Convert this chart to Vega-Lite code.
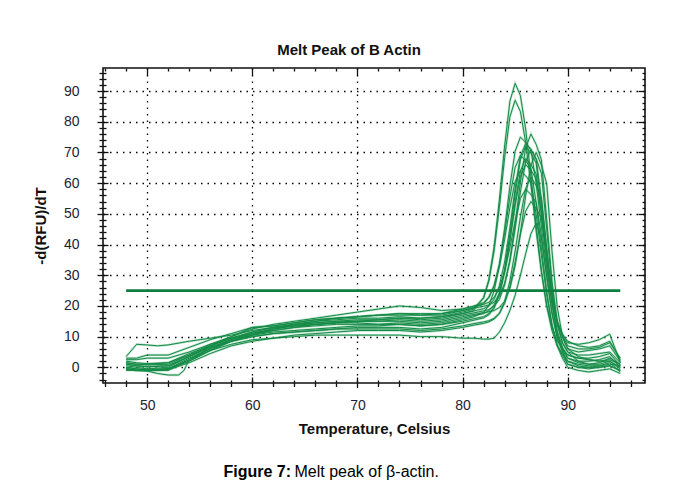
{
  "$schema": "https://vega.github.io/schema/vega-lite/v6.json",
  "width": 542,
  "height": 315,
  "autosize": {"type": "none"},
  "padding": {"left": 103, "top": 68, "right": 33, "bottom": 113},
  "background": "white",
  "config": {
    "font": "Liberation Sans",
    "view": {"stroke": "#111111", "strokeWidth": 1.6}
  },
  "title": {
    "text": "Melt Peak of B Actin",
    "font": "Liberation Sans",
    "fontSize": 15,
    "fontWeight": "bold",
    "color": "#111111",
    "frame": "group",
    "anchor": "middle",
    "dx": -25,
    "offset": -4,
    "baseline": "alphabetic"
  },
  "datasets": {
    "curves": [
      {"c":1,"t":48,"v":1},{"c":1,"t":49,"v":0.5},{"c":1,"t":50,"v":0.2},{"c":1,"t":52,"v":0.5},{"c":1,"t":54,"v":3.5},{"c":1,"t":56,"v":6.5},{"c":1,"t":58,"v":9},{"c":1,"t":60,"v":11},{"c":1,"t":62,"v":12.5},{"c":1,"t":64,"v":13.5},{"c":1,"t":66,"v":14.5},{"c":1,"t":68,"v":15},{"c":1,"t":70,"v":15.5},{"c":1,"t":72,"v":15.5},{"c":1,"t":74,"v":16},{"c":1,"t":76,"v":15.5},{"c":1,"t":78,"v":16},{"c":1,"t":80,"v":17.5},{"c":1,"t":81,"v":18.4},{"c":1,"t":82,"v":22.6},{"c":1,"t":82.5,"v":28.5},{"c":1,"t":83,"v":39.2},{"c":1,"t":83.5,"v":54.6},{"c":1,"t":84,"v":72.1},{"c":1,"t":84.5,"v":86.7},{"c":1,"t":85,"v":92.5},{"c":1,"t":85.5,"v":88.5},{"c":1,"t":86,"v":77.6},{"c":1,"t":86.5,"v":62.4},{"c":1,"t":87,"v":46.1},{"c":1,"t":87.5,"v":31.4},{"c":1,"t":88,"v":19.9},{"c":1,"t":88.5,"v":12},{"c":1,"t":89,"v":7.1},{"c":1,"t":89.5,"v":4.4},{"c":1,"t":90,"v":2},{"c":1,"t":91,"v":1},{"c":1,"t":92,"v":0.5},{"c":1,"t":93,"v":0.5},{"c":1,"t":94,"v":1},{"c":1,"t":95,"v":0.5},
      {"c":2,"t":48,"v":2},{"c":2,"t":49,"v":1.5},{"c":2,"t":50,"v":1.2},{"c":2,"t":52,"v":1.5},{"c":2,"t":54,"v":4.5},{"c":2,"t":56,"v":7},{"c":2,"t":58,"v":9.5},{"c":2,"t":60,"v":11.5},{"c":2,"t":62,"v":13},{"c":2,"t":64,"v":14},{"c":2,"t":66,"v":15},{"c":2,"t":68,"v":15.5},{"c":2,"t":70,"v":16},{"c":2,"t":72,"v":16},{"c":2,"t":74,"v":16.5},{"c":2,"t":76,"v":16},{"c":2,"t":78,"v":16.5},{"c":2,"t":80,"v":18},{"c":2,"t":81,"v":18.9},{"c":2,"t":82,"v":22.7},{"c":2,"t":82.5,"v":28.2},{"c":2,"t":83,"v":38},{"c":2,"t":83.5,"v":52.1},{"c":2,"t":84,"v":68.3},{"c":2,"t":84.5,"v":81.6},{"c":2,"t":85,"v":87},{"c":2,"t":85.5,"v":83.3},{"c":2,"t":86,"v":73.3},{"c":2,"t":86.5,"v":59.4},{"c":2,"t":87,"v":44.4},{"c":2,"t":87.5,"v":31},{"c":2,"t":88,"v":20.4},{"c":2,"t":88.5,"v":13.1},{"c":2,"t":89,"v":8.6},{"c":2,"t":89.5,"v":6.2},{"c":2,"t":90,"v":4},{"c":2,"t":91,"v":3},{"c":2,"t":92,"v":2.5},{"c":2,"t":93,"v":2},{"c":2,"t":94,"v":2.5},{"c":2,"t":95,"v":1},
      {"c":3,"t":48,"v":3.5},{"c":3,"t":49,"v":7.5},{"c":3,"t":50,"v":7.3},{"c":3,"t":51,"v":7},{"c":3,"t":52,"v":7.3},{"c":3,"t":54,"v":8.5},{"c":3,"t":56,"v":9.5},{"c":3,"t":58,"v":10.5},{"c":3,"t":60,"v":12},{"c":3,"t":62,"v":13},{"c":3,"t":64,"v":13.5},{"c":3,"t":66,"v":14},{"c":3,"t":68,"v":14.5},{"c":3,"t":70,"v":14.5},{"c":3,"t":72,"v":14},{"c":3,"t":74,"v":14},{"c":3,"t":76,"v":13.5},{"c":3,"t":78,"v":14},{"c":3,"t":80,"v":15.5},{"c":3,"t":81,"v":16.4},{"c":3,"t":82,"v":17.9},{"c":3,"t":82.5,"v":20.2},{"c":3,"t":83,"v":24.9},{"c":3,"t":83.5,"v":33.2},{"c":3,"t":84,"v":45.3},{"c":3,"t":84.5,"v":59},{"c":3,"t":85,"v":70.4},{"c":3,"t":85.5,"v":75},{"c":3,"t":86,"v":73.3},{"c":3,"t":86.5,"v":70.8},{"c":3,"t":87,"v":59.9},{"c":3,"t":87.5,"v":45.8},{"c":3,"t":88,"v":32.1},{"c":3,"t":88.5,"v":21.5},{"c":3,"t":89,"v":14.8},{"c":3,"t":89.5,"v":10.9},{"c":3,"t":90,"v":8},{"c":3,"t":91,"v":7.5},{"c":3,"t":92,"v":8},{"c":3,"t":93,"v":9},{"c":3,"t":94,"v":10.8},{"c":3,"t":95,"v":1.5},
      {"c":4,"t":48,"v":-0.5},{"c":4,"t":49,"v":-1},{"c":4,"t":50,"v":-1},{"c":4,"t":52,"v":-0.5},{"c":4,"t":54,"v":2},{"c":4,"t":56,"v":5.5},{"c":4,"t":58,"v":8.5},{"c":4,"t":60,"v":10.5},{"c":4,"t":62,"v":12},{"c":4,"t":64,"v":13},{"c":4,"t":66,"v":14},{"c":4,"t":68,"v":14.5},{"c":4,"t":70,"v":15},{"c":4,"t":72,"v":15.5},{"c":4,"t":74,"v":16},{"c":4,"t":76,"v":16},{"c":4,"t":78,"v":16.5},{"c":4,"t":80,"v":17.5},{"c":4,"t":81,"v":18.3},{"c":4,"t":82,"v":19.1},{"c":4,"t":82.5,"v":20},{"c":4,"t":83,"v":22.2},{"c":4,"t":83.5,"v":26.6},{"c":4,"t":84,"v":34.3},{"c":4,"t":84.5,"v":45.4},{"c":4,"t":85,"v":58.2},{"c":4,"t":85.5,"v":68.7},{"c":4,"t":86,"v":73},{"c":4,"t":86.5,"v":70.9},{"c":4,"t":87,"v":67.8},{"c":4,"t":87.5,"v":54.6},{"c":4,"t":88,"v":38.6},{"c":4,"t":88.5,"v":24.6},{"c":4,"t":89,"v":15},{"c":4,"t":89.5,"v":9.8},{"c":4,"t":90,"v":6},{"c":4,"t":91,"v":5},{"c":4,"t":92,"v":5.5},{"c":4,"t":93,"v":6},{"c":4,"t":94,"v":7},{"c":4,"t":95,"v":2},
      {"c":5,"t":48,"v":0},{"c":5,"t":49,"v":-0.5},{"c":5,"t":50,"v":-0.8},{"c":5,"t":52,"v":-0.5},{"c":5,"t":54,"v":3},{"c":5,"t":56,"v":6},{"c":5,"t":58,"v":8.5},{"c":5,"t":60,"v":10},{"c":5,"t":62,"v":11},{"c":5,"t":64,"v":11.5},{"c":5,"t":66,"v":12},{"c":5,"t":68,"v":12.5},{"c":5,"t":70,"v":13},{"c":5,"t":72,"v":13},{"c":5,"t":74,"v":13},{"c":5,"t":76,"v":12.5},{"c":5,"t":78,"v":13},{"c":5,"t":80,"v":14.5},{"c":5,"t":81,"v":15.3},{"c":5,"t":82,"v":16.1},{"c":5,"t":82.5,"v":17.1},{"c":5,"t":83,"v":19.3},{"c":5,"t":83.5,"v":23.8},{"c":5,"t":84,"v":31.8},{"c":5,"t":84.5,"v":43.4},{"c":5,"t":85,"v":56.6},{"c":5,"t":85.5,"v":67.6},{"c":5,"t":86,"v":72},{"c":5,"t":86.5,"v":69.8},{"c":5,"t":87,"v":66.5},{"c":5,"t":87.5,"v":52.5},{"c":5,"t":88,"v":35.6},{"c":5,"t":88.5,"v":20.7},{"c":5,"t":89,"v":10.6},{"c":5,"t":89.5,"v":5},{"c":5,"t":90,"v":1},{"c":5,"t":91,"v":0},{"c":5,"t":92,"v":-0.5},{"c":5,"t":93,"v":0},{"c":5,"t":94,"v":0.5},{"c":5,"t":95,"v":-1},
      {"c":6,"t":48,"v":-0.5},{"c":6,"t":49,"v":-1},{"c":6,"t":50,"v":-1.2},{"c":6,"t":51,"v":-2},{"c":6,"t":52,"v":-2.5},{"c":6,"t":53,"v":-2.5},{"c":6,"t":53.5,"v":-1},{"c":6,"t":54,"v":2.5},{"c":6,"t":56,"v":6.5},{"c":6,"t":58,"v":8.5},{"c":6,"t":60,"v":10.5},{"c":6,"t":62,"v":12.5},{"c":6,"t":64,"v":14},{"c":6,"t":66,"v":15},{"c":6,"t":68,"v":16},{"c":6,"t":70,"v":16.5},{"c":6,"t":72,"v":17},{"c":6,"t":74,"v":17.5},{"c":6,"t":76,"v":17.5},{"c":6,"t":78,"v":17.5},{"c":6,"t":80,"v":18.5},{"c":6,"t":81,"v":19.2},{"c":6,"t":82,"v":19.9},{"c":6,"t":82.5,"v":20.3},{"c":6,"t":83,"v":21.2},{"c":6,"t":83.5,"v":23.2},{"c":6,"t":84,"v":27.4},{"c":6,"t":84.5,"v":34.6},{"c":6,"t":85,"v":45.1},{"c":6,"t":85.5,"v":57.1},{"c":6,"t":86,"v":67},{"c":6,"t":86.5,"v":71},{"c":6,"t":87,"v":67.9},{"c":6,"t":87.5,"v":63.2},{"c":6,"t":88,"v":45.1},{"c":6,"t":88.5,"v":26.5},{"c":6,"t":89,"v":13.9},{"c":6,"t":89.5,"v":7.9},{"c":6,"t":90,"v":5},{"c":6,"t":91,"v":4},{"c":6,"t":92,"v":4},{"c":6,"t":93,"v":4.5},{"c":6,"t":94,"v":5},{"c":6,"t":95,"v":1.5},
      {"c":7,"t":48,"v":1.5},{"c":7,"t":49,"v":1},{"c":7,"t":50,"v":0.8},{"c":7,"t":52,"v":1},{"c":7,"t":54,"v":4},{"c":7,"t":56,"v":7.5},{"c":7,"t":58,"v":10},{"c":7,"t":60,"v":13},{"c":7,"t":62,"v":13.5},{"c":7,"t":64,"v":14.5},{"c":7,"t":66,"v":15.5},{"c":7,"t":68,"v":16},{"c":7,"t":70,"v":16.5},{"c":7,"t":72,"v":17},{"c":7,"t":74,"v":17.5},{"c":7,"t":76,"v":17},{"c":7,"t":78,"v":17},{"c":7,"t":80,"v":18.5},{"c":7,"t":81,"v":19.4},{"c":7,"t":82,"v":20.7},{"c":7,"t":82.5,"v":22.7},{"c":7,"t":83,"v":26.7},{"c":7,"t":83.5,"v":33.7},{"c":7,"t":84,"v":43.9},{"c":7,"t":84.5,"v":55.5},{"c":7,"t":85,"v":65.1},{"c":7,"t":85.5,"v":69},{"c":7,"t":86,"v":67.3},{"c":7,"t":86.5,"v":64.7},{"c":7,"t":87,"v":53.5},{"c":7,"t":87.5,"v":38.9},{"c":7,"t":88,"v":24.8},{"c":7,"t":88.5,"v":13.9},{"c":7,"t":89,"v":7},{"c":7,"t":89.5,"v":3},{"c":7,"t":90,"v":0},{"c":7,"t":91,"v":-1},{"c":7,"t":92,"v":-1.5},{"c":7,"t":93,"v":-1},{"c":7,"t":94,"v":-0.5},{"c":7,"t":95,"v":-2},
      {"c":8,"t":48,"v":2.5},{"c":8,"t":49,"v":2.5},{"c":8,"t":50,"v":3},{"c":8,"t":52,"v":3},{"c":8,"t":54,"v":5},{"c":8,"t":56,"v":7.5},{"c":8,"t":58,"v":9.5},{"c":8,"t":60,"v":11},{"c":8,"t":62,"v":12},{"c":8,"t":64,"v":13},{"c":8,"t":66,"v":13.5},{"c":8,"t":68,"v":14},{"c":8,"t":70,"v":14},{"c":8,"t":72,"v":14},{"c":8,"t":74,"v":14.5},{"c":8,"t":76,"v":14},{"c":8,"t":78,"v":14.5},{"c":8,"t":80,"v":16},{"c":8,"t":81,"v":16.8},{"c":8,"t":82,"v":17.5},{"c":8,"t":82.5,"v":18.4},{"c":8,"t":83,"v":20.4},{"c":8,"t":83.5,"v":24.3},{"c":8,"t":84,"v":31.3},{"c":8,"t":84.5,"v":41.3},{"c":8,"t":85,"v":52.7},{"c":8,"t":85.5,"v":62.2},{"c":8,"t":86,"v":66},{"c":8,"t":86.5,"v":64.2},{"c":8,"t":87,"v":61.5},{"c":8,"t":87.5,"v":49.8},{"c":8,"t":88,"v":35.7},{"c":8,"t":88.5,"v":23.4},{"c":8,"t":89,"v":15},{"c":8,"t":89.5,"v":10.3},{"c":8,"t":90,"v":7},{"c":8,"t":91,"v":6},{"c":8,"t":92,"v":6},{"c":8,"t":93,"v":6.5},{"c":8,"t":94,"v":8},{"c":8,"t":95,"v":3},
      {"c":9,"t":48,"v":-1},{"c":9,"t":49,"v":-1},{"c":9,"t":50,"v":-1.1},{"c":9,"t":52,"v":-0.8},{"c":9,"t":54,"v":1.5},{"c":9,"t":56,"v":4.5},{"c":9,"t":58,"v":7},{"c":9,"t":60,"v":8.5},{"c":9,"t":62,"v":9.5},{"c":9,"t":64,"v":10.5},{"c":9,"t":66,"v":11},{"c":9,"t":68,"v":11.5},{"c":9,"t":70,"v":12},{"c":9,"t":72,"v":12},{"c":9,"t":74,"v":12},{"c":9,"t":76,"v":11.5},{"c":9,"t":78,"v":12},{"c":9,"t":80,"v":13},{"c":9,"t":81,"v":13.7},{"c":9,"t":82,"v":14.3},{"c":9,"t":82.5,"v":14.8},{"c":9,"t":83,"v":15.7},{"c":9,"t":83.5,"v":17.5},{"c":9,"t":84,"v":21.4},{"c":9,"t":84.5,"v":28.1},{"c":9,"t":85,"v":37.9},{"c":9,"t":85.5,"v":49},{"c":9,"t":86,"v":58.2},{"c":9,"t":86.5,"v":62},{"c":9,"t":87,"v":59.2},{"c":9,"t":87.5,"v":55},{"c":9,"t":88,"v":38.8},{"c":9,"t":88.5,"v":22.2},{"c":9,"t":89,"v":11},{"c":9,"t":89.5,"v":5.6},{"c":9,"t":90,"v":3},{"c":9,"t":91,"v":2},{"c":9,"t":92,"v":2},{"c":9,"t":93,"v":2.5},{"c":9,"t":94,"v":3.5},{"c":9,"t":95,"v":0},
      {"c":10,"t":48,"v":0.5},{"c":10,"t":49,"v":0},{"c":10,"t":50,"v":-0.5},{"c":10,"t":52,"v":0},{"c":10,"t":54,"v":3.5},{"c":10,"t":56,"v":7},{"c":10,"t":58,"v":10},{"c":10,"t":60,"v":12.5},{"c":10,"t":62,"v":14},{"c":10,"t":64,"v":15},{"c":10,"t":66,"v":16},{"c":10,"t":68,"v":17},{"c":10,"t":70,"v":18},{"c":10,"t":72,"v":19},{"c":10,"t":74,"v":20},{"c":10,"t":76,"v":19.5},{"c":10,"t":78,"v":18.5},{"c":10,"t":80,"v":19},{"c":10,"t":81,"v":19.8},{"c":10,"t":82,"v":20.5},{"c":10,"t":82.5,"v":21.2},{"c":10,"t":83,"v":22.8},{"c":10,"t":83.5,"v":25.8},{"c":10,"t":84,"v":31.2},{"c":10,"t":84.5,"v":38.9},{"c":10,"t":85,"v":47.7},{"c":10,"t":85.5,"v":55},{"c":10,"t":86,"v":58},{"c":10,"t":86.5,"v":56.3},{"c":10,"t":87,"v":53.7},{"c":10,"t":87.5,"v":42.7},{"c":10,"t":88,"v":29.3},{"c":10,"t":88.5,"v":17.6},{"c":10,"t":89,"v":9.6},{"c":10,"t":89.5,"v":5.1},{"c":10,"t":90,"v":2},{"c":10,"t":91,"v":0.5},{"c":10,"t":92,"v":0},{"c":10,"t":93,"v":0.5},{"c":10,"t":94,"v":1.5},{"c":10,"t":95,"v":-1.5},
      {"c":11,"t":48,"v":-0.5},{"c":11,"t":49,"v":-1},{"c":11,"t":50,"v":-1},{"c":11,"t":52,"v":-0.5},{"c":11,"t":54,"v":2},{"c":11,"t":56,"v":5.5},{"c":11,"t":58,"v":8.5},{"c":11,"t":60,"v":10},{"c":11,"t":62,"v":11},{"c":11,"t":64,"v":11.5},{"c":11,"t":66,"v":12},{"c":11,"t":68,"v":12.5},{"c":11,"t":70,"v":12.5},{"c":11,"t":72,"v":12.5},{"c":11,"t":74,"v":12.5},{"c":11,"t":76,"v":12},{"c":11,"t":78,"v":12.5},{"c":11,"t":80,"v":13.5},{"c":11,"t":81,"v":14.2},{"c":11,"t":82,"v":14.8},{"c":11,"t":82.5,"v":15.2},{"c":11,"t":83,"v":16},{"c":11,"t":83.5,"v":17.6},{"c":11,"t":84,"v":20.8},{"c":11,"t":84.5,"v":26.3},{"c":11,"t":85,"v":34.3},{"c":11,"t":85.5,"v":43.4},{"c":11,"t":86,"v":50.9},{"c":11,"t":86.5,"v":54},{"c":11,"t":87,"v":51.8},{"c":11,"t":87.5,"v":48.6},{"c":11,"t":88,"v":36.1},{"c":11,"t":88.5,"v":23.3},{"c":11,"t":89,"v":14.6},{"c":11,"t":89.5,"v":10.5},{"c":11,"t":90,"v":8.5},{"c":11,"t":91,"v":7},{"c":11,"t":92,"v":6.5},{"c":11,"t":93,"v":7},{"c":11,"t":94,"v":8.5},{"c":11,"t":95,"v":2.5},
      {"c":12,"t":48,"v":0},{"c":12,"t":49,"v":-0.5},{"c":12,"t":50,"v":-0.8},{"c":12,"t":52,"v":-0.5},{"c":12,"t":54,"v":2.5},{"c":12,"t":56,"v":5.5},{"c":12,"t":58,"v":7.5},{"c":12,"t":60,"v":9},{"c":12,"t":62,"v":9.5},{"c":12,"t":64,"v":10},{"c":12,"t":66,"v":10.5},{"c":12,"t":68,"v":10.5},{"c":12,"t":70,"v":10.5},{"c":12,"t":72,"v":10.5},{"c":12,"t":74,"v":10.5},{"c":12,"t":76,"v":10},{"c":12,"t":78,"v":10},{"c":12,"t":80,"v":9.5},{"c":12,"t":81,"v":9.5},{"c":12,"t":82,"v":9.2},{"c":12,"t":82.5,"v":9.2},{"c":12,"t":83,"v":9.5},{"c":12,"t":83.5,"v":11.5},{"c":12,"t":84,"v":14.5},{"c":12,"t":84.5,"v":18.5},{"c":12,"t":85,"v":23.5},{"c":12,"t":85.5,"v":30},{"c":12,"t":86,"v":37},{"c":12,"t":86.5,"v":43.5},{"c":12,"t":87,"v":47},{"c":12,"t":87.5,"v":41.9},{"c":12,"t":88,"v":30.1},{"c":12,"t":88.5,"v":18},{"c":12,"t":89,"v":9.8},{"c":12,"t":89.5,"v":5.9},{"c":12,"t":90,"v":4},{"c":12,"t":91,"v":3},{"c":12,"t":92,"v":3},{"c":12,"t":93,"v":3.5},{"c":12,"t":94,"v":4.5},{"c":12,"t":95,"v":0.5},
      {"c":13,"t":48,"v":1},{"c":13,"t":49,"v":0.5},{"c":13,"t":50,"v":0.2},{"c":13,"t":52,"v":0.5},{"c":13,"t":54,"v":3.5},{"c":13,"t":56,"v":7},{"c":13,"t":58,"v":9.5},{"c":13,"t":60,"v":11.5},{"c":13,"t":62,"v":13},{"c":13,"t":64,"v":14},{"c":13,"t":66,"v":14.5},{"c":13,"t":68,"v":15},{"c":13,"t":70,"v":15},{"c":13,"t":72,"v":15},{"c":13,"t":74,"v":15},{"c":13,"t":76,"v":14.5},{"c":13,"t":78,"v":15},{"c":13,"t":80,"v":16.5},{"c":13,"t":81,"v":17.2},{"c":13,"t":82,"v":17.8},{"c":13,"t":82.5,"v":18.1},{"c":13,"t":83,"v":18.5},{"c":13,"t":83.5,"v":19.5},{"c":13,"t":84,"v":21.5},{"c":13,"t":84.5,"v":25.7},{"c":13,"t":85,"v":33.1},{"c":13,"t":85.5,"v":43.7},{"c":13,"t":86,"v":55.9},{"c":13,"t":86.5,"v":65.9},{"c":13,"t":87,"v":70},{"c":13,"t":87.5,"v":65.9},{"c":13,"t":88,"v":59.8},{"c":13,"t":88.5,"v":38},{"c":13,"t":89,"v":19.6},{"c":13,"t":89.5,"v":10},{"c":13,"t":90,"v":6},{"c":13,"t":91,"v":3.5},{"c":13,"t":92,"v":2.5},{"c":13,"t":93,"v":2},{"c":13,"t":94,"v":2},{"c":13,"t":95,"v":0},
      {"c":14,"t":48,"v":3},{"c":14,"t":49,"v":3},{"c":14,"t":50,"v":4},{"c":14,"t":52,"v":4},{"c":14,"t":54,"v":6.5},{"c":14,"t":56,"v":9},{"c":14,"t":58,"v":11},{"c":14,"t":60,"v":13},{"c":14,"t":62,"v":13.5},{"c":14,"t":64,"v":14.5},{"c":14,"t":66,"v":15.5},{"c":14,"t":68,"v":16},{"c":14,"t":70,"v":16.5},{"c":14,"t":72,"v":17},{"c":14,"t":74,"v":17},{"c":14,"t":76,"v":17},{"c":14,"t":78,"v":17.5},{"c":14,"t":80,"v":19},{"c":14,"t":81,"v":19.9},{"c":14,"t":82,"v":21.1},{"c":14,"t":82.5,"v":22.9},{"c":14,"t":83,"v":26.5},{"c":14,"t":83.5,"v":32.7},{"c":14,"t":84,"v":41.7},{"c":14,"t":84.5,"v":52},{"c":14,"t":85,"v":60.5},{"c":14,"t":85.5,"v":64},{"c":14,"t":86,"v":62.4},{"c":14,"t":86.5,"v":60.1},{"c":14,"t":87,"v":49.8},{"c":14,"t":87.5,"v":36.5},{"c":14,"t":88,"v":23.7},{"c":14,"t":88.5,"v":13.7},{"c":14,"t":89,"v":7.4},{"c":14,"t":89.5,"v":3.8},{"c":14,"t":90,"v":1},{"c":14,"t":91,"v":0},{"c":14,"t":92,"v":0},{"c":14,"t":93,"v":0},{"c":14,"t":94,"v":0.5},{"c":14,"t":95,"v":-1},
      {"c":15,"t":48,"v":-0.5},{"c":15,"t":49,"v":-1},{"c":15,"t":50,"v":-1},{"c":15,"t":52,"v":-1},{"c":15,"t":54,"v":2.5},{"c":15,"t":56,"v":6},{"c":15,"t":58,"v":9},{"c":15,"t":60,"v":11},{"c":15,"t":62,"v":12.5},{"c":15,"t":64,"v":13.5},{"c":15,"t":66,"v":14},{"c":15,"t":68,"v":14.5},{"c":15,"t":70,"v":15},{"c":15,"t":72,"v":15},{"c":15,"t":74,"v":15.5},{"c":15,"t":76,"v":15},{"c":15,"t":78,"v":15.5},{"c":15,"t":80,"v":17},{"c":15,"t":81,"v":17.7},{"c":15,"t":82,"v":18.4},{"c":15,"t":82.5,"v":18.8},{"c":15,"t":83,"v":19.9},{"c":15,"t":83.5,"v":22.1},{"c":15,"t":84,"v":26.8},{"c":15,"t":84.5,"v":34.9},{"c":15,"t":85,"v":46.8},{"c":15,"t":85.5,"v":60.3},{"c":15,"t":86,"v":71.5},{"c":15,"t":86.5,"v":76},{"c":15,"t":87,"v":72.6},{"c":15,"t":87.5,"v":67.6},{"c":15,"t":88,"v":48.1},{"c":15,"t":88.5,"v":28.1},{"c":15,"t":89,"v":14.6},{"c":15,"t":89.5,"v":8.1},{"c":15,"t":90,"v":5},{"c":15,"t":91,"v":2},{"c":15,"t":92,"v":1},{"c":15,"t":93,"v":1},{"c":15,"t":94,"v":2},{"c":15,"t":95,"v":-0.5},
      {"c":16,"t":48,"v":1.5},{"c":16,"t":49,"v":1},{"c":16,"t":50,"v":1},{"c":16,"t":52,"v":1.5},{"c":16,"t":54,"v":4},{"c":16,"t":56,"v":6.5},{"c":16,"t":58,"v":9},{"c":16,"t":60,"v":10.5},{"c":16,"t":62,"v":11.5},{"c":16,"t":64,"v":12},{"c":16,"t":66,"v":12.5},{"c":16,"t":68,"v":13},{"c":16,"t":70,"v":13.5},{"c":16,"t":72,"v":13.5},{"c":16,"t":74,"v":14},{"c":16,"t":76,"v":13.5},{"c":16,"t":78,"v":14},{"c":16,"t":80,"v":15},{"c":16,"t":81,"v":15.8},{"c":16,"t":82,"v":16.5},{"c":16,"t":82.5,"v":17.5},{"c":16,"t":83,"v":19.5},{"c":16,"t":83.5,"v":23.7},{"c":16,"t":84,"v":31.1},{"c":16,"t":84.5,"v":41.7},{"c":16,"t":85,"v":53.9},{"c":16,"t":85.5,"v":63.9},{"c":16,"t":86,"v":68},{"c":16,"t":86.5,"v":66},{"c":16,"t":87,"v":63},{"c":16,"t":87.5,"v":50.2},{"c":16,"t":88,"v":34.7},{"c":16,"t":88.5,"v":21.1},{"c":16,"t":89,"v":11.8},{"c":16,"t":89.5,"v":6.6},{"c":16,"t":90,"v":3},{"c":16,"t":91,"v":1.5},{"c":16,"t":92,"v":1},{"c":16,"t":93,"v":1.5},{"c":16,"t":94,"v":3},{"c":16,"t":95,"v":1}
    ],
    "threshold": [
      {"t0": 48, "t1": 95, "v": 25}
    ]
  },
  "resolve": {"axis": {"x": "independent", "y": "independent"}},
  "layer": [
    {
      "data": {"name": "curves"},
      "mark": {"type": "line", "stroke": "#6fbf8f", "strokeWidth": 2.4, "opacity": 0.45},
      "encoding": {
        "x": {
          "field": "t",
          "type": "quantitative",
          "scale": {"domain": [45.8, 97.35], "nice": false, "zero": false},
          "axis": {
            "orient": "bottom",
            "values": [46,48,50,52,54,56,58,60,62,64,66,68,70,72,74,76,78,80,82,84,86,88,90,92,94,96],
            "domain": false,
            "grid": false,
            "tickColor": "#111111",
            "tickWidth": 1.3,
            "tickSize": {"condition": {"test": "datum.value % 10 === 0", "value": 4.5}, "value": 3.5},
            "labelExpr": "datum.value % 10 === 0 ? datum.label : ''",
            "labelOverlap": false,
            "labelFlush": false,
            "labelFontSize": 14,
            "labelColor": "#222233",
            "labelPadding": 11,
            "title": "Temperature, Celsius",
            "titleFontSize": 15,
            "titleFontWeight": "bold",
            "titleColor": "#111111",
            "titlePadding": 9
          }
        },
        "y": {
          "field": "v",
          "type": "quantitative",
          "scale": {"domain": [-5.1, 97.5], "nice": false, "zero": false},
          "axis": {
            "orient": "left",
            "values": [-4,-2,0,2,4,6,8,10,12,14,16,18,20,22,24,26,28,30,32,34,36,38,40,42,44,46,48,50,52,54,56,58,60,62,64,66,68,70,72,74,76,78,80,82,84,86,88,90,92,94,96],
            "domain": false,
            "grid": false,
            "tickColor": "#111111",
            "tickWidth": 1.3,
            "tickSize": {"condition": {"test": "datum.value % 10 === 0", "value": 6}, "value": 4},
            "labelExpr": "datum.value % 10 === 0 ? datum.label : ''",
            "labelOverlap": false,
            "labelFlush": false,
            "labelFontSize": 14,
            "labelColor": "#222233",
            "labelPadding": 18,
            "title": "-d(RFU)/dT",
            "titleFontSize": 15,
            "titleFontWeight": "bold",
            "titleColor": "#111111",
            "titlePadding": 15
          }
        },
        "detail": {"field": "c", "type": "nominal"}
      }
    },
    {
      "data": {"name": "curves"},
      "mark": {"type": "line", "stroke": "#148a47", "strokeWidth": 1.0},
      "encoding": {
        "x": {
          "field": "t",
          "type": "quantitative",
          "scale": {"domain": [45.8, 97.35], "nice": false, "zero": false},
          "axis": {
            "orient": "bottom",
            "values": [46,48,50,52,54,56,58,60,62,64,66,68,70,72,74,76,78,80,82,84,86,88,90,92,94,96],
            "domain": false,
            "labels": false,
            "tickColor": "#111111",
            "tickWidth": 1.3,
            "tickSize": {"condition": {"test": "datum.value % 10 === 0", "value": -6}, "value": -3},
            "grid": true,
            "gridColor": "#000000",
            "gridWidth": 1.3,
            "gridDash": [1.5, 5],
            "gridOpacity": {"condition": {"test": "datum.value % 10 === 0", "value": 1}, "value": 0},
            "title": "Figure 7:",
            "titleFontSize": 16,
            "titleFontWeight": "bold",
            "titleColor": "#000000",
            "titleAlign": "left",
            "titleBaseline": "alphabetic",
            "titleX": 120,
            "titleY": 93
          }
        },
        "y": {
          "field": "v",
          "type": "quantitative",
          "scale": {"domain": [-5.1, 97.5], "nice": false, "zero": false},
          "axis": {
            "orient": "left",
            "values": [-4,-2,0,2,4,6,8,10,12,14,16,18,20,22,24,26,28,30,32,34,36,38,40,42,44,46,48,50,52,54,56,58,60,62,64,66,68,70,72,74,76,78,80,82,84,86,88,90,92,94,96],
            "domain": false,
            "labels": false,
            "tickColor": "#111111",
            "tickWidth": 1.3,
            "tickSize": {"condition": {"test": "datum.value % 10 === 0", "value": -5}, "value": -3},
            "grid": true,
            "gridColor": "#000000",
            "gridWidth": 1.3,
            "gridDash": [1.5, 5],
            "gridOpacity": {"condition": {"test": "datum.value % 10 === 0", "value": 1}, "value": 0},
            "title": null
          }
        },
        "detail": {"field": "c", "type": "nominal"}
      }
    },
    {
      "data": {"name": "threshold"},
      "mark": {"type": "rule", "stroke": "#0f7f3f", "strokeWidth": 2.8},
      "encoding": {
        "x": {
          "field": "t0",
          "type": "quantitative",
          "scale": {"domain": [45.8, 97.35], "nice": false, "zero": false},
          "axis": {
            "orient": "top",
            "values": [46,48,50,52,54,56,58,60,62,64,66,68,70,72,74,76,78,80,82,84,86,88,90,92,94,96],
            "domain": false,
            "labels": false,
            "grid": false,
            "tickColor": "#111111",
            "tickWidth": 1.3,
            "tickSize": {"condition": {"test": "datum.value % 10 === 0", "value": -7}, "value": -3},
            "title": "Melt peak of β-actin.",
            "titleFontSize": 16,
            "titleFontWeight": "normal",
            "titleColor": "#000000",
            "titleAlign": "left",
            "titleBaseline": "alphabetic",
            "titleX": 191,
            "titleY": 408
          }
        },
        "x2": {"field": "t1"},
        "y": {
          "field": "v",
          "type": "quantitative",
          "scale": {"domain": [-5.1, 97.5], "nice": false, "zero": false},
          "axis": {
            "orient": "right",
            "values": [-4,-2,0,2,4,6,8,10,12,14,16,18,20,22,24,26,28,30,32,34,36,38,40,42,44,46,48,50,52,54,56,58,60,62,64,66,68,70,72,74,76,78,80,82,84,86,88,90,92,94,96],
            "domain": false,
            "labels": false,
            "grid": false,
            "tickColor": "#111111",
            "tickWidth": 1.3,
            "tickSize": {"condition": {"test": "datum.value % 10 === 0", "value": -7}, "value": -3},
            "title": null
          }
        }
      }
    }
  ]
}
